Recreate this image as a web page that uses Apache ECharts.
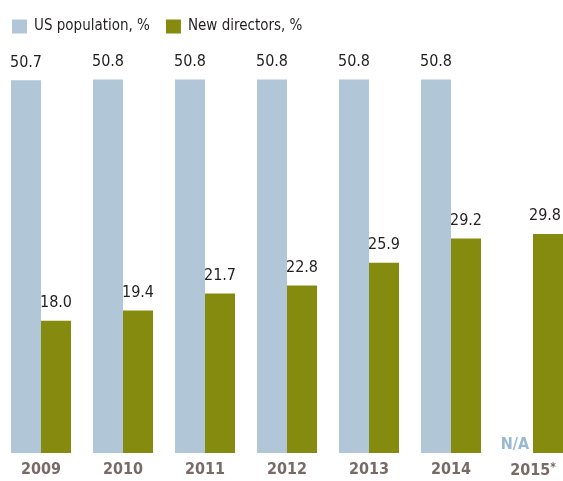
<!DOCTYPE html>
<html>
<head>
<meta charset="utf-8">
<script src="https://cdn.jsdelivr.net/npm/echarts@6/dist/echarts.min.js"></script>
<style>html,body{margin:0;padding:0;background:#fff}#c{width:563px;height:481px}</style>
</head>
<body>
<div id="c"></div>
<script>
const categories = ['2009', '2010', '2011', '2012', '2013', '2014', '2015'];
const usPopulation = [50.7, 50.8, 50.8, 50.8, 50.8, 50.8, null];
const newDirectors = [18.0, 19.4, 21.7, 22.8, 25.9, 29.2, 29.8];
const seriesNames = ['US population, %', 'New directors, %'];
const naLabel = 'N/A';

const FONT = '"DejaVu Sans Condensed"';
const BLUE = '#b1c6d6';
const GREEN = '#858b0f';
const lastIdx = categories.length - 1;

const chart = echarts.init(document.getElementById('c'));
chart.setOption({
  animation: false,
  textStyle: { fontFamily: FONT },
  legend: {
    left: 7, top: 14,
    itemWidth: 15, itemHeight: 14, itemGap: 16,
    icon: 'rect',
    textStyle: { fontFamily: FONT, fontSize: 15, color: '#231f20', padding: [0, 0, 0, 2] },
    data: seriesNames
  },
  grid: { left: 0, width: 574, top: 12, bottom: 28, containLabel: false, outerBoundsMode: 'none' },
  xAxis: {
    type: 'category',
    data: categories,
    axisLine: { show: false },
    axisTick: { show: false },
    axisLabel: {
      interval: 0,
      margin: 9,
      formatter: v => v === '2015' ? '{y|' + v + '}{s|*}' : '{y|' + v + '}',
      rich: {
        y: { fontFamily: FONT, fontSize: 16, fontWeight: 'bold', color: '#786a66' },
        s: { fontFamily: FONT, fontSize: 12, fontWeight: 'bold', color: '#786a66', verticalAlign: 'top', padding: [0, 0, 6, 0] }
      }
    }
  },
  yAxis: { type: 'value', min: 0, max: 60, show: false, splitLine: { show: false } },
  series: [
    {
      name: seriesNames[0], type: 'bar', barWidth: 30, barGap: '0%',
      itemStyle: { color: BLUE },
      label: { show: true, position: 'top', distance: 10, fontFamily: FONT, fontSize: 16, color: '#231f20',
        formatter: p => p.value.toFixed(1) },
      data: usPopulation.map(v => v === null
        ? { value: 0, label: { formatter: naLabel, color: '#9ab8cf', fontWeight: 'bold', distance: 0, offset: [-3, 0] } }
        : v)
    },
    {
      name: seriesNames[1], type: 'bar', barWidth: 30,
      itemStyle: { color: GREEN },
      label: { show: true, position: 'top', distance: 10, fontFamily: FONT, fontSize: 16, color: '#231f20',
        formatter: p => p.value.toFixed(1) },
      data: newDirectors.map((v, i) => i === lastIdx ? { value: v, label: { offset: [-3, 0] } } : v)
    }
  ]
});
</script>
</body>
</html>
